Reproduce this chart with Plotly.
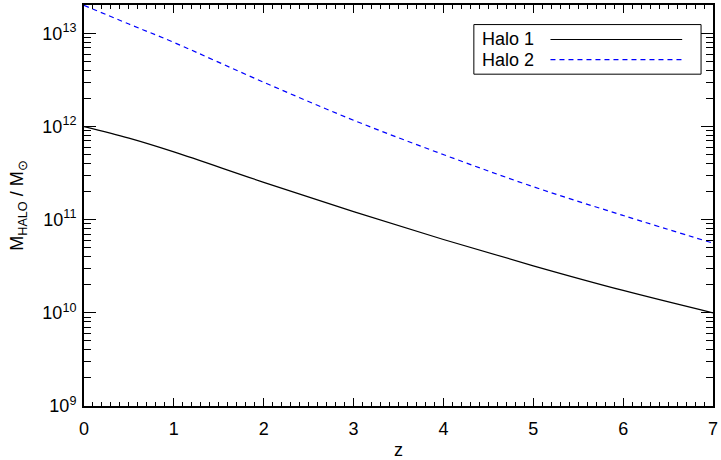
import plotly.graph_objects as go

# Redshift grid and halo mass growth histories (solar masses)
z = [0, 0.5, 1, 2, 3, 4, 5, 6, 7]
halo1_mass = [1.0e12, 7.5e11, 5.34e11, 2.52e11, 1.22e11, 6.13e10, 3.2e10, 1.74e10, 1.0e10]
halo2_mass = [2.0e13, 1.26e13, 8.0e12, 2.99e12, 1.17e12, 5.0e11, 2.26e11, 1.11e11, 5.6e10]

series_names = ["Halo 1", "Halo 2"]
series_colors = ["black", "blue"]
series_dash = ["solid", "5px,4px"]

y_major = [1e9, 1e10, 1e11, 1e12, 1e13]
y_major_text = ["10<sup>9</sup>", "10<sup>10</sup>", "10<sup>11</sup>", "10<sup>12</sup>", "10<sup>13</sup>"]
x_major = [0, 1, 2, 3, 4, 5, 6, 7]

FONT = "Liberation Sans, Arial, Helvetica, sans-serif"

y_minor = [m * 10 ** e for e in range(9, 14) for m in range(2, 10)]

fig = go.Figure()
for masses, name, color, dash in zip([halo1_mass, halo2_mass], series_names, series_colors, series_dash):
    fig.add_trace(go.Scatter(
        x=z, y=masses, mode="lines", name=name, showlegend=False,
        line=dict(color=color, width=1.2, dash=dash, shape="spline", smoothing=1.0),
    ))

fig.update_xaxes(
    range=[0, 7], tickvals=x_major, ticktext=[str(v) for v in x_major],
    ticks="inside", ticklen=8, tickwidth=1, tickcolor="black",
    minor=dict(ticks="inside", ticklen=4, tickwidth=1, tickcolor="black", dtick=0.1, showgrid=False),
    showline=True, linecolor="black", linewidth=2, mirror="ticks",
    showgrid=False, zeroline=False, ticklabelstandoff=5, ticklabeloverflow="allow",
    tickfont=dict(family=FONT, size=18, color="black"),
    title=dict(text="z", font=dict(family=FONT, size=18, color="black"), standoff=6),
)
fig.update_yaxes(
    type="log", range=[9, 13.305], tickvals=y_major, ticktext=y_major_text,
    ticks="inside", ticklen=12, tickwidth=1, tickcolor="black",
    minor=dict(ticks="inside", ticklen=7, tickwidth=1, tickcolor="black", tickvals=y_minor, showgrid=False),
    showline=True, linecolor="black", linewidth=2, mirror="ticks",
    showgrid=False, zeroline=False, ticklabelstandoff=2, ticklabeloverflow="allow",
    tickfont=dict(family=FONT, size=18, color="black"),
    title=dict(text="M<sub>HALO</sub> / M<sub>⊙</sub>", font=dict(family=FONT, size=18, color="black"), standoff=14),
)

# Legend box: label text followed by a line sample
legend_x0, legend_x1 = 0.6198, 0.981
legend_y0, legend_y1 = 0.8275, 0.9512
row_y = [0.914, 0.8639]
fig.add_shape(type="rect", xref="paper", yref="paper", x0=legend_x0, x1=legend_x1,
              y0=legend_y0, y1=legend_y1, line=dict(color="black", width=1), fillcolor="white")
for name, color, dash, ry in zip(series_names, series_colors, series_dash, row_y):
    fig.add_annotation(xref="paper", yref="paper", x=0.629, y=ry, text=name, showarrow=False,
                       xanchor="left", yanchor="middle", font=dict(family=FONT, size=18, color="black"))
    fig.add_shape(type="line", xref="paper", yref="paper", x0=0.7416, x1=0.951, y0=ry, y1=ry,
                  line=dict(color=color, width=1.2, dash=dash))

fig.update_layout(
    width=721, height=460, autosize=False,
    margin=dict(l=84, r=5, t=3, b=53),
    paper_bgcolor="white", plot_bgcolor="white",
    font=dict(family=FONT, size=18, color="black"),
)

fig.write_html("out.html")
